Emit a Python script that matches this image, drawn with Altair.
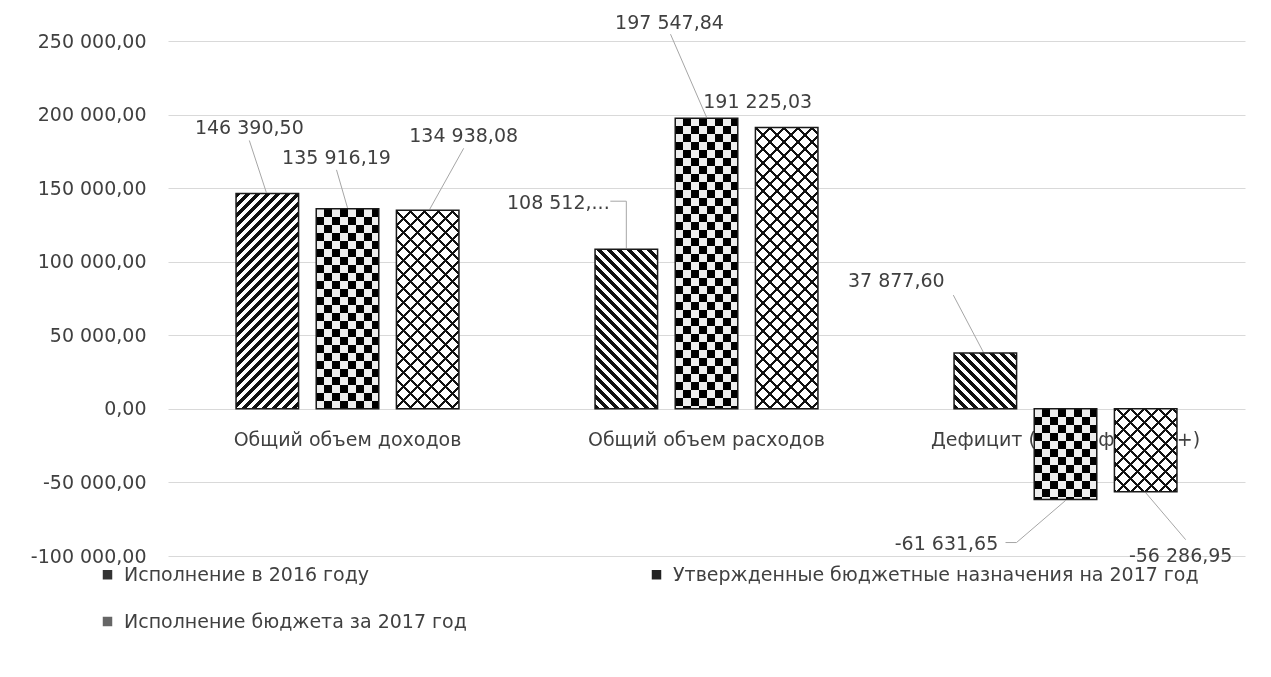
import math
import altair as alt
import pandas as pd

# ---------------- data ----------------
categories = ["Общий объем доходов", "Общий объем расходов", "Дефицит (-), профицит (+)"]
series = [
    "Исполнение в 2016 году",
    "Утвержденные бюджетные назначения на 2017 год",
    "Исполнение бюджета за 2017 год",
]
values_2016 = [146390.50, 108512.00, 37877.60]
values_plan_2017 = [135916.19, 197547.84, -61631.65]
values_fact_2017 = [134938.08, 191225.03, -56286.95]
y_ticks = [-100000, -50000, 0, 50000, 100000, 150000, 200000, 250000]
truncated_labels = {("Общий объем расходов", "Исполнение в 2016 году"): "108 512,..."}


def fmt(v):
    s = f"{abs(v):,.2f}".replace(",", "\u00a0").replace(".", ",")
    return ("-" if v < 0 else "") + s


rows = []
for s, vals in zip(series, [values_2016, values_plan_2017, values_fact_2017]):
    for c, v in zip(categories, vals):
        rows.append({"cat": c, "ser": s, "val": v, "label": truncated_labels.get((c, s), fmt(v))})
df = pd.DataFrame(rows)

# ---------------- layout / style ----------------
W, H = 1077, 515
Y_MIN, Y_MAX = -100000, 250000
PX = H / (Y_MAX - Y_MIN)
X_PI, X_PO = 0.33, 0.165
O_PI, O_PO = 0.22, 0.11
BAND = W / 3 * (1 - X_PI)
SUB = BAND / 3
BAR_W = SUB * (1 - O_PI)
FONT = "DejaVu Sans"
TXT = "#404040"
FS = 19
LEADER = "#a6a6a6"

# label offsets (pixels) from the bar end, like manually moved Excel labels
label_offsets = {
    (0, 0): (-18, -65), (0, 1): (-11, -51), (0, 2): (36, -74),
    (1, 0): (-68, -46), (1, 1): (-37, -95), (1, 2): (-29, -25),
    (2, 0): (-89, -72), (2, 1): (-119, 44), (2, 2): (35, 64),
}
# leader line segments (pixels from the bar end): (dx1, dy1, dx2, dy2)
leaders = {
    (0, 0): [(-1, -1, -18, -53)],
    (0, 1): [(0, -1, -11, -39)],
    (0, 2): [(2, -1, 36, -62)],
    (1, 0): [(0, -1, 0, -48), (0, -48, -16, -48)],
    (1, 1): [(0, -1, -36, -84)],
    (2, 0): [(-2, -1, -32, -58)],
    (2, 1): [(0, 1, -49, 43), (-49, 43, -60, 43)],
    (2, 2): [(0, 1, 40, 48)],
}

BLACK = "#111111"
WHITE = "#ffffff"
CLEAR = "rgba(255,255,255,0)"


def stops_for(n, frac, c_on, c_off):
    stops = []
    i = 0
    while i / n < 1:
        a = round(i / n, 5)
        b = round(min((i + frac) / n, 1.0), 5)
        e = round(min((i + 1) / n, 1.0), 5)
        stops += [
            {"offset": a, "color": c_on}, {"offset": b, "color": c_on},
            {"offset": b, "color": c_off}, {"offset": e, "color": c_off},
        ]
        i += 1
    return stops


def diag(w, h, period, frac, slash, c_on, c_off):
    k = (w + h) / (w * w + h * h)
    n = (w + h) / period
    if slash:
        x1, y1, x2, y2 = 0, 0, w * k, h * k
    else:
        x1, y1, x2, y2 = 0, 1, w * k, 1 - h * k
    return {"gradient": "linear", "x1": x1, "y1": y1, "x2": x2, "y2": y2,
            "stops": stops_for(n, frac, c_on, c_off)}


def straight(w, h, period, frac, vertical, c_on, c_off):
    if vertical:
        n = w / period
        g = {"x1": 0, "y1": 0, "x2": 1, "y2": 0}
    else:
        n = h / period
        g = {"x1": 0, "y1": 0, "x2": 0, "y2": 1}
    g.update({"gradient": "linear", "stops": stops_for(n, frac, c_on, c_off)})
    return g


x_enc = alt.X("cat:N", sort=categories,
              scale=alt.Scale(domain=categories, paddingInner=X_PI, paddingOuter=X_PO), axis=None)
xo_enc = alt.XOffset("ser:N", sort=series,
                     scale=alt.Scale(domain=series, paddingInner=O_PI, paddingOuter=O_PO))
y_enc = alt.Y("val:Q", scale=alt.Scale(domain=[Y_MIN, Y_MAX], nice=False, zero=True),
              axis=alt.Axis(values=y_ticks, format=",.2f", title=None, domain=False, ticks=False,
                            labelPadding=22, labelFont=FONT, labelFontSize=FS, labelColor=TXT,
                            gridColor="#d9d9d9", gridWidth=1))

layers = []

# category labels (drawn beneath the bars, at the zero line)
cat_df = pd.DataFrame({"cat": categories, "val": [0] * len(categories)})
layers.append(
    alt.Chart(cat_df).mark_text(dy=31, font=FONT, fontSize=FS, color=TXT)
    .encode(x=x_enc, y=y_enc, text="cat:N")
)

# leader lines
for (ci, si), segs in leaders.items():
    row = df[(df.cat == categories[ci]) & (df.ser == series[si])]
    shift = (si - 1) * SUB
    for (dx1, dy1, dx2, dy2) in segs:
        layers.append(
            alt.Chart(row).mark_rule(color=LEADER, strokeWidth=1,
                                     xOffset=shift + dx1, x2Offset=shift + dx2,
                                     yOffset=dy1, y2Offset=dy2)
            .encode(x=x_enc, x2=alt.X2("cat"), y=y_enc, y2=alt.Y2("val"))
        )

# base bars carrying the legend (legend order row-wise like the reference)
legend_order = [series[0], series[2], series[1]]
legend_colors = ["#333333", "#666666", "#222222"]
layers.append(
    alt.Chart(df).mark_bar().encode(
        x=x_enc, xOffset=xo_enc, y=y_enc,
        color=alt.Color("ser:N", sort=legend_order,
                        scale=alt.Scale(domain=legend_order, range=legend_colors),
                        legend=alt.Legend(orient="none", legendX=-70, legendY=524, columns=2,
                                          columnPadding=180, rowPadding=27, title=None,
                                          symbolType="square", symbolSize=90, symbolStrokeWidth=0,
                                          labelFont=FONT, labelFontSize=FS, labelColor=TXT,
                                          labelLimit=0, labelOffset=7)),
    )
)

# patterned bars
for ci, c in enumerate(categories):
    for si, s in enumerate(series):
        row = df[(df.cat == c) & (df.ser == s)]
        v = float(row.val.iloc[0])
        h = abs(v) * PX
        w = BAR_W
        base = alt.Chart(row)
        enc = dict(x=x_enc, xOffset=xo_enc, y=y_enc)
        if si == 0:
            g = diag(w, h, 10, 0.5, ci == 0, BLACK, WHITE)
            layers.append(base.mark_bar(fill=g).encode(**enc))
        elif si == 1:
            g1 = straight(w, h, 16, 0.5, True, BLACK, WHITE)
            g2 = straight(w, h, 16, 0.5, False, WHITE, BLACK)
            layers.append(base.mark_bar(fill=g1).encode(**enc))
            layers.append(base.mark_bar(fill=g2, blend="difference").encode(**enc))
        else:
            g1 = diag(w, h, 14, 0.2, False, BLACK, WHITE)
            g2 = diag(w, h, 14, 0.2, True, BLACK, CLEAR)
            layers.append(base.mark_bar(fill=g1).encode(**enc))
            layers.append(base.mark_bar(fill=g2).encode(**enc))

# bar outlines
layers.append(
    alt.Chart(df).mark_bar(fillOpacity=0, stroke="#1a1a1a", strokeWidth=1.5)
    .encode(x=x_enc, xOffset=xo_enc, y=y_enc)
)

# data labels
for ci, c in enumerate(categories):
    for si, s in enumerate(series):
        row = df[(df.cat == c) & (df.ser == s)]
        dx, dy = label_offsets[(ci, si)]
        layers.append(
            alt.Chart(row).mark_text(dx=dx, dy=dy, font=FONT, fontSize=FS, color=TXT)
            .encode(x=x_enc, xOffset=xo_enc, y=y_enc, text="label:N")
        )

chart = (
    alt.layer(*layers)
    .properties(width=W, height=H,
                padding={"left": 160, "top": 33, "right": 16, "bottom": 110},
                autosize=alt.AutoSizeParams(type="none"))
    .configure(locale={"number": {"decimal": ",", "thousands": "\u00a0", "grouping": [3],
                                  "currency": ["", ""], "minus": "-"}})
    .configure_view(strokeWidth=0)
    .configure_axis(labelFont=FONT)
)

chart.save("out.html", embed_options={"renderer": "svg", "actions": False})
